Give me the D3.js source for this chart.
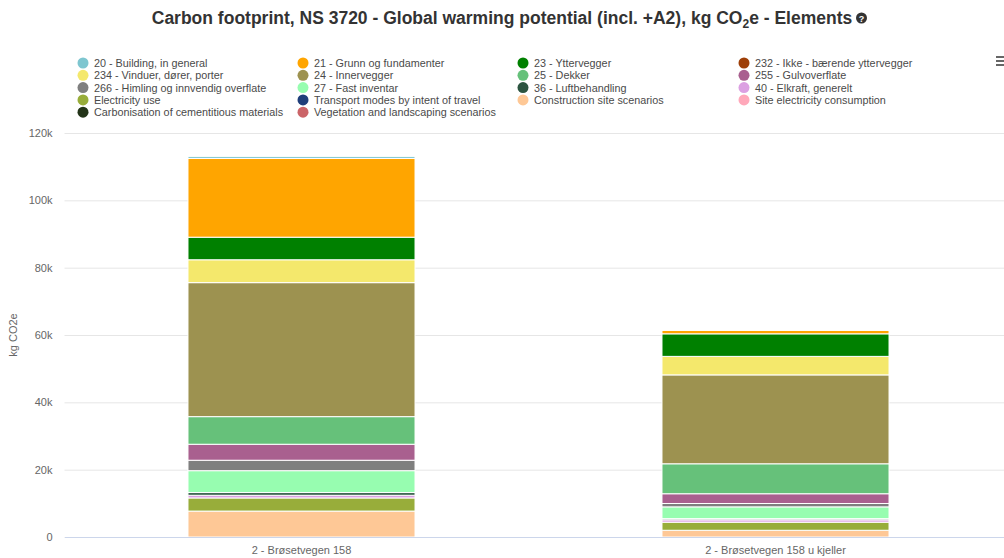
<!DOCTYPE html>
<html>
<head>
<meta charset="utf-8">
<script src="https://cdn.jsdelivr.net/npm/d3@7"></script>
<style>
  html, body { margin: 0; padding: 0; background: #fff; overflow: hidden; }
  svg { display: block; font-family: "Liberation Sans", Arial, sans-serif; }
</style>
</head>
<body>
<svg id="chart" width="1004" height="558"></svg>
<script>
// ---- data ----
const categories = ["2 - Brøsetvegen 158", "2 - Brøsetvegen 158 u kjeller"];
const seriesNames = [
  "20 - Building, in general", "21 - Grunn og fundamenter", "23 - Yttervegger", "232 - Ikke - bærende yttervegger",
  "234 - Vinduer, dører, porter", "24 - Innervegger", "25 - Dekker", "255 - Gulvoverflate",
  "266 - Himling og innvendig overflate", "27 - Fast inventar", "36 - Luftbehandling", "40 - Elkraft, generelt",
  "Electricity use", "Transport modes by intent of travel", "Construction site scenarios", "Site electricity consumption",
  "Carbonisation of cementitious materials", "Vegetation and landscaping scenarios"
];
const seriesColors = [
  "#7ec6d0", "#ffa500", "#008000", "#9e3f08",
  "#f4e86c", "#9d9250", "#66c17a", "#a9608f",
  "#7f7f7f", "#97fdb0", "#2c5440", "#dca0e2",
  "#98ad3a", "#1f3e7a", "#fec896", "#ffa8ba",
  "#233418", "#cb6468"
];
// values in kg CO2e, one entry per series, same order as seriesNames
const valuesBar1 = [600, 23400, 6700, 0, 6800, 39800, 8200, 4750, 3100, 6500, 800, 800, 3900, 0, 7700, 0, 0, 0];
const valuesBar2 = [0, 1000, 6700, 0, 5500, 26400, 8900, 2900, 1000, 3500, 350, 700, 2400, 0, 2000, 0, 0, 0];
const yTicks = [0, 20000, 40000, 60000, 80000, 100000, 120000];

// ---- layout ----
const svg = d3.select("#chart");
const plot = { left: 64.5, right: 1012.5, top: 133, bottom: 537 };

const y = d3.scaleLinear().domain([0, 120000]).range([plot.bottom, plot.top]);
const x = d3.scaleBand().domain(categories).range([plot.left, plot.right]).paddingInner(0).paddingOuter(0);
const barFrac = 0.479;

// Title
const title = svg.append("text")
  .attr("x", 502).attr("y", 24)
  .attr("text-anchor", "middle")
  .attr("font-size", 17.5).attr("font-weight", "bold").attr("fill", "#333");
title.append("tspan").text("Carbon footprint, NS 3720 - Global warming potential (incl. +A2), kg CO");
title.append("tspan").attr("font-size", 12).attr("dy", 4).text("2");
title.append("tspan").attr("dy", -4).text("e - Elements");
// help icon
const tb = title.node().getBBox();
const hx = tb.x + tb.width + 9;
svg.append("circle").attr("cx", hx).attr("cy", 18).attr("r", 5.5).attr("fill", "#333");
svg.append("text").attr("x", hx).attr("y", 21.5).attr("text-anchor", "middle")
  .attr("font-size", 9).attr("font-weight", "bold").attr("fill", "#fff").text("?");

// Legend (4 columns, row-wise)
const legCols = [83, 303, 523, 744];
const legRow0 = 63, legRowH = 12.3;
const legend = svg.append("g");
seriesNames.forEach((name, i) => {
  const c = i % 4, r = Math.floor(i / 4);
  const g = legend.append("g").attr("transform", `translate(${legCols[c]},${legRow0 + r * legRowH})`);
  g.append("circle").attr("r", 5.5).attr("fill", seriesColors[i]);
  g.append("text").attr("x", 11).attr("y", 4).attr("font-size", 10.8).attr("fill", "#4a4a4a").text(name);
});

// Hamburger menu icon
[0, 1, 2].forEach(k => {
  svg.append("rect").attr("x", 996).attr("y", 56 + k * 4).attr("width", 10).attr("height", 2).attr("fill", "#666");
});

// Gridlines & y axis
const yAxis = d3.axisLeft(y).tickValues(yTicks)
  .tickFormat(d => d === 0 ? "0" : (d / 1000) + "k")
  .tickSize(-(plot.right - plot.left)).tickPadding(12);
const ya = svg.append("g").attr("transform", `translate(${plot.left},0)`).call(yAxis);
ya.select(".domain").remove();
ya.selectAll(".tick line").attr("stroke", "#e6e6e6");
ya.selectAll(".tick text").attr("font-size", 11).attr("fill", "#666").attr("font-family", "Liberation Sans, Arial, sans-serif");

svg.append("text")
  .attr("transform", `translate(17,${(plot.top + plot.bottom) / 2}) rotate(-90)`)
  .attr("text-anchor", "middle").attr("font-size", 11).attr("fill", "#666").text("kg CO2e");

// Stacked bars (first series on top => stack from the last series upward)
const allValues = [valuesBar1, valuesBar2];
const rows = categories.map((cat, ci) => {
  const o = { cat };
  seriesNames.forEach((s, si) => o[s] = allValues[ci][si]);
  return o;
});
const stackKeys = seriesNames.slice().reverse();
const stacked = d3.stack().keys(stackKeys)(rows);

const bars = svg.append("g");
stacked.forEach(layer => {
  const col = seriesColors[seriesNames.indexOf(layer.key)];
  layer.forEach(d => {
    if (d[1] - d[0] <= 0) return;
    const bw = x.bandwidth() * barFrac;
    bars.append("rect")
      .attr("x", x(d.data.cat) + (x.bandwidth() - bw) / 2)
      .attr("y", y(d[1]))
      .attr("width", bw)
      .attr("height", y(d[0]) - y(d[1]))
      .attr("fill", col)
      .attr("stroke", "#fff").attr("stroke-width", 1);
  });
});

// X axis
const xAxis = d3.axisBottom(x).tickSize(0).tickPadding(9);
const xa = svg.append("g").attr("transform", `translate(0,${plot.bottom})`).call(xAxis);
xa.select(".domain").attr("stroke", "#ccd6eb");
xa.selectAll(".tick text").attr("font-size", 11).attr("fill", "#666").attr("font-family", "Liberation Sans, Arial, sans-serif");
</script>
</body>
</html>
